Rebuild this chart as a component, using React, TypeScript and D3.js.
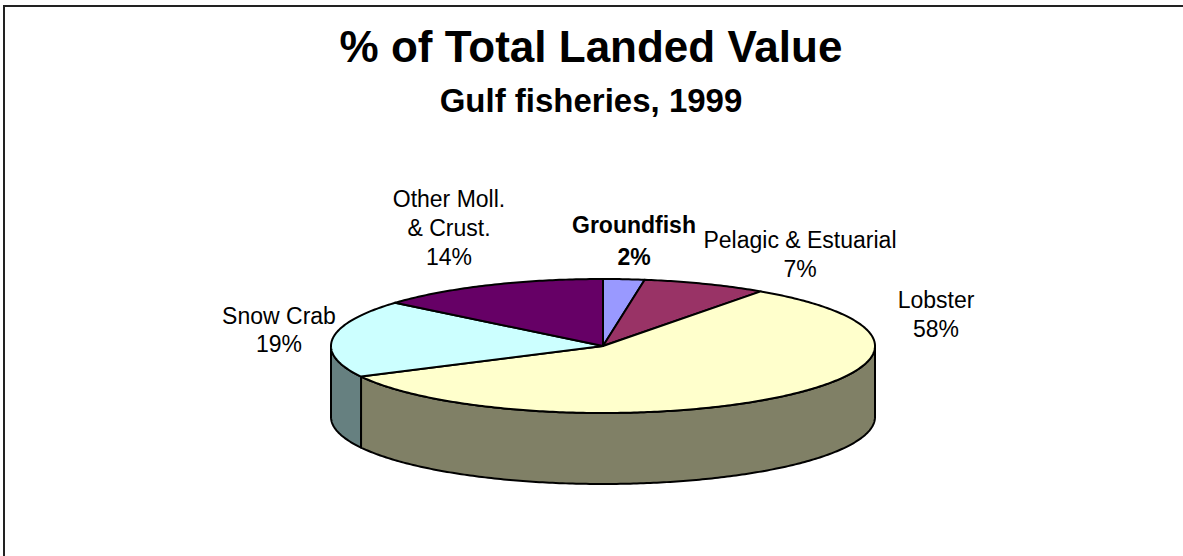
import React from 'react';
import * as d3 from 'd3';

const categories = ['Groundfish', 'Pelagic & Estuarial', 'Lobster', 'Snow Crab', 'Other Moll. & Crust.'];
const values = [2.45, 7.4, 57.6, 18.7, 13.85];
const topColors = ['#9999FF', '#993366', '#FFFFCC', '#CCFFFF', '#660066'];
const sideColors = ['#4D4D80', '#4D1A33', '#808066', '#668080', '#330033'];
const labelLines = [['Groundfish'], ['Pelagic & Estuarial'], ['Lobster'], ['Snow Crab'], ['Other Moll.', '& Crust.']];
const titleText = '% of Total Landed Value';
const subtitleText = 'Gulf fisheries, 1999';

const W = 1183;
const H = 556;
const cx = 603;
const cy = 346;
const rx = 272;
const ry = 67;
const depth = 71;

// label anchor (center x, first baseline, line spacing)
const labelLayout = [
  { x: 634, y: 233, dy: 32, bold: true },
  { x: 800, y: 248, dy: 29, bold: false },
  { x: 936, y: 308, dy: 29, bold: false },
  { x: 279, y: 324, dy: 28, bold: false },
  { x: 449, y: 207, dy: 29, bold: false },
];

const font = 'Arial, "Liberation Sans", sans-serif';

function pt(a: number, dz = 0): [number, number] {
  return [cx + rx * Math.sin(a), cy - ry * Math.cos(a) + dz];
}

function arcPts(a0: number, a1: number, dz = 0): [number, number][] {
  const n = Math.max(2, Math.ceil(Math.abs(a1 - a0) * 80));
  const s = d3.scaleLinear().domain([0, n]).range([a0, a1]);
  return d3.range(n + 1).map((i) => pt(s(i), dz));
}

const line = d3.line<[number, number]>();

export default function App() {
  const pie = d3.pie<number>().sort(null).value((d) => d).startAngle(0).endAngle(2 * Math.PI);
  const arcs = pie(values);

  const sides = arcs.map((a, i) => {
    const s0 = Math.max(a.startAngle, Math.PI / 2);
    const s1 = Math.min(a.endAngle, (3 * Math.PI) / 2);
    if (s0 >= s1) return null;
    const pts = [...arcPts(s0, s1, 0), ...arcPts(s1, s0, depth)];
    return <path key={'s' + i} d={line(pts) + 'Z'} fill={sideColors[i]} stroke="#000" strokeWidth={2} strokeLinejoin="round" />;
  });

  const tops = arcs.map((a, i) => {
    const pts: [number, number][] = [[cx, cy], ...arcPts(a.startAngle, a.endAngle, 0)];
    return <path key={'t' + i} d={line(pts) + 'Z'} fill={topColors[i]} stroke="#000" strokeWidth={2} strokeLinejoin="round" />;
  });

  const labels = arcs.map((a, i) => {
    const L = labelLayout[i];
    const lines = [...labelLines[i], Math.round(values[i]) + '%'];
    return (
      <text key={'l' + i} textAnchor="middle" fontFamily={font} fontSize={23} fontWeight={L.bold ? 'bold' : 'normal'} fill="#000">
        {lines.map((t, j) => (
          <tspan key={j} x={L.x} y={L.y + j * L.dy}>{t}</tspan>
        ))}
      </text>
    );
  });

  return (
    <svg width={W} height={H} style={{ position: 'absolute', left: 0, top: 0, background: '#fff' }}>
      <rect x={0} y={0} width={W} height={H} fill="#fff" />
      <rect x={4} y={6} width={W + 20} height={H + 20} fill="none" stroke="#222" strokeWidth={2} />
      <text x={591} y={62} textAnchor="middle" fontFamily={font} fontSize={44} fontWeight="bold">{titleText}</text>
      <text x={591} y={112} textAnchor="middle" fontFamily={font} fontSize={33} fontWeight="bold">{subtitleText}</text>
      <g>{sides}</g>
      <g>{tops}</g>
      <g>{labels}</g>
    </svg>
  );
}
